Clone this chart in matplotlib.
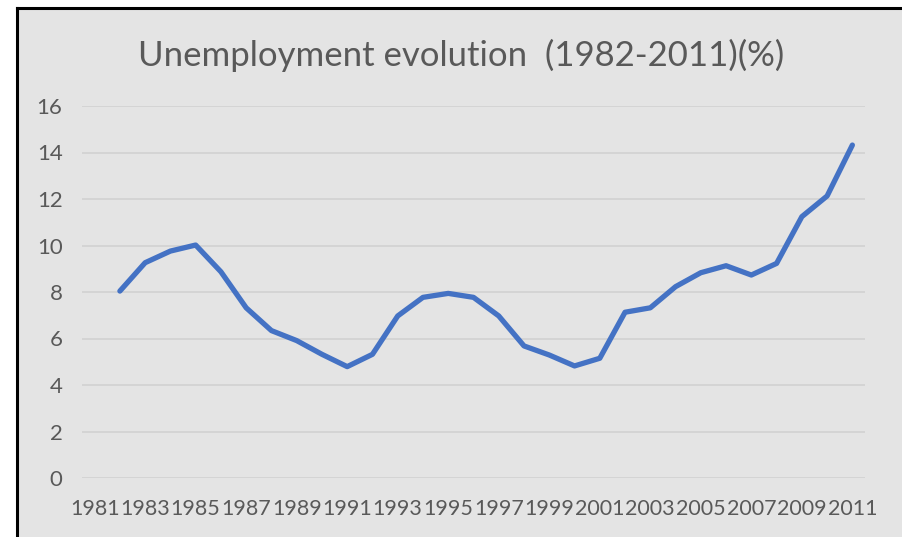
import matplotlib
matplotlib.use("Agg")
import matplotlib.pyplot as plt
from matplotlib.patches import Rectangle
from matplotlib.lines import Line2D
import numpy as np

years = list(range(1981, 2012))
line_years = list(range(1982, 2012))
unemployment = [8.04, 9.26, 9.76, 10.02, 8.87, 7.32, 6.34, 5.91, 5.32, 4.79,
                5.32, 6.97, 7.77, 7.94, 7.77, 6.97, 5.68, 5.29, 4.82, 5.15,
                7.13, 7.32, 8.23, 8.83, 9.13, 8.73, 9.23, 11.24, 12.13, 14.32]
yticks = [0, 2, 4, 6, 8, 10, 12, 14, 16]
title = "Unemployment evolution  (1982-2011)(%)"

plt.rcParams['font.family'] = ['Liberation Sans Narrow', 'Lato', 'DejaVu Sans']

W, H = 903, 537
fig = plt.figure(figsize=(W/100, H/100), dpi=100)
fig.patch.set_facecolor('white')
bg = '#e4e4e4'
fig.add_artist(Rectangle((17/W, 0), 1 - 17/W, 1 - 8/H, transform=fig.transFigure,
                         facecolor=bg, edgecolor='none', zorder=-10))
fig.add_artist(Line2D([17/W, 1], [1 - 8/H, 1 - 8/H], transform=fig.transFigure,
                      color='black', lw=2.2))
fig.add_artist(Line2D([17/W, 17/W], [0, 1 - 8/H], transform=fig.transFigure,
                      color='black', lw=2.2))

ax = fig.add_axes([82/W, 1 - 478/H, (865 - 82)/W, (478 - 106)/H])
ax.set_facecolor('none')
idx = {y: i for i, y in enumerate(years)}
xs = [idx[y] for y in line_years]
ax.plot(xs, unemployment, color='#4472C4', lw=3.8, solid_joinstyle='round',
        solid_capstyle='round', zorder=3)
ax.set_xlim(-0.5, len(years) - 0.5)
ax.set_ylim(0, 16)
ax.set_yticks(yticks)
ax.set_yticklabels([str(v) for v in yticks])
ax.set_xticks(range(0, len(years), 2))
ax.set_xticklabels([str(y) for y in years[::2]])
ax.grid(axis='y', color='#d3d3d3', lw=1.3)
ax.set_axisbelow(True)
for s in ax.spines.values():
    s.set_visible(False)
ax.tick_params(axis='both', length=0, colors='#595959')
ax.tick_params(axis='y', pad=14, labelsize=16)
ax.tick_params(axis='x', pad=15, labelsize=15.5)

fig.text(461/W, 1 - 55/H, title, ha='center', va='center', fontsize=25,
         color='#595959')

fig.savefig('out.png', dpi=100, facecolor=fig.get_facecolor())
